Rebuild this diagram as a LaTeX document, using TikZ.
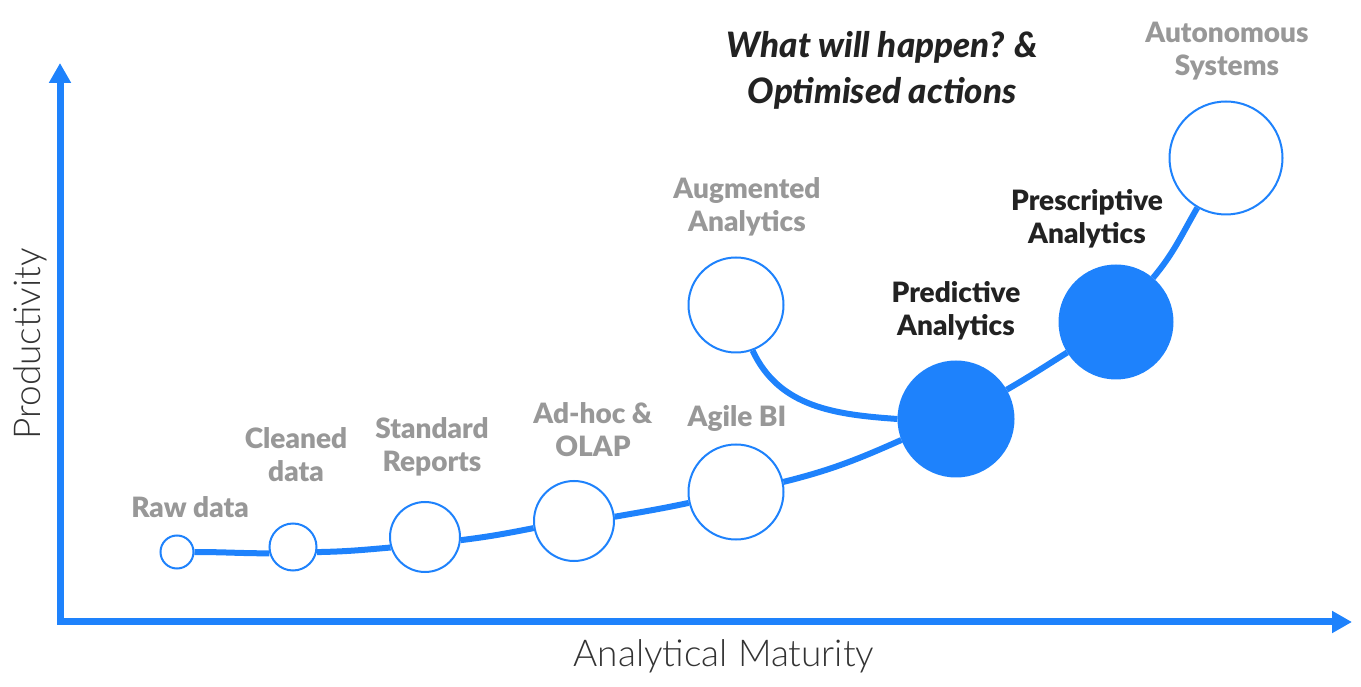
\documentclass[tikz,border=0pt]{standalone}
\usepackage{fontspec}
\setmainfont{Lato}
\newfontfamily\lightfont{Lato Light}
\newfontfamily\heavyfont{Lato Black}
\usetikzlibrary{arrows.meta,backgrounds}
\definecolor{maturity}{RGB}{30,130,252}
\definecolor{stagegray}{RGB}{152,152,152}
\definecolor{ink}{RGB}{34,34,34}
\definecolor{axisink}{RGB}{51,51,51}

\begin{document}
\begin{tikzpicture}[x=1pt,y=1pt,
    stage/.style={circle,draw=maturity,line width=2pt,fill=white,inner sep=0pt},
    done/.style={stage,fill=maturity},
    stagetext/.style={align=center,text=stagegray,font=\heavyfont\fontsize{28}{33}\selectfont},
    hottext/.style={stagetext,text=ink},
    axistext/.style={text=axisink,font=\lightfont\fontsize{37}{42}\selectfont},
    axis/.style={draw=maturity,line width=7pt,miter limit=4},
    growth/.style={draw=maturity,line width=6pt}]
  \useasboundingbox (0,0) rectangle (1361,686);

  % axes
  \coordinate (origin) at (60,64);
  \coordinate (ytop) at (60,623);
  \coordinate (xend) at (1352,64);
  \draw[axis,{Triangle[length=20pt,width=21pt]}-{Triangle[length=20pt,width=21pt]}]
    (ytop) -- (origin) -- (xend);
  \node[axistext,rotate=90] (prod) at (30,342) {Productivity};
  \node[axistext] (mat) at (724,30) {Analytical Maturity};

  % stages
  \node[stage,minimum size=33pt] (raw) at (177,134) {};
  \node[stage,minimum size=47pt] (cleaned) at (293,139) {};
  \node[stage,minimum size=70pt] (standard) at (425,149) {};
  \node[stage,minimum size=80pt] (adhoc) at (574,165) {};
  \node[stage,minimum size=95pt] (agile) at (736,194) {};
  \node[stage,minimum size=95pt] (augmented) at (736,381) {};
  \node[done,minimum size=115pt] (predictive) at (956,267) {};
  \node[done,minimum size=113pt] (prescriptive) at (1116,364) {};
  \node[stage,minimum size=113pt] (autonomous) at (1226,528) {};

  \node[stagetext] at (190,179) {Raw data};
  \node[stagetext] at (296,231) {Cleaned\\data};
  \node[stagetext] at (432,239) {Standard\\Reports};
  \node[stagetext] at (593,256) {Ad-hoc \&\\OLAP};
  \node[stagetext] at (737,268) {Agile BI};
  \node[stagetext] at (747,479) {Augmented\\Analytics};
  \node[hottext] at (956,375) {Predictive\\Analytics};
  \node[hottext] at (1087,467) {Prescriptive\\Analytics};
  \node[stagetext] at (1227,635) {Autonomous\\Systems};
  \node[hottext,font=\heavyfont\fontsize{35}{46}\selectfont\itshape] at (882,616)
    {What will happen? \&\\Optimised actions};

  % growth curve
  \begin{scope}[on background layer]
    \draw[growth] (raw.east) to[out=0,in=180] (cleaned.195);
    \draw[growth] (cleaned.-12) to[out=1,in=185] (standard.197);
    \draw[growth] (standard.-5) to[out=7,in=191] (adhoc.190);
    \draw[growth] (adhoc.6) to[out=10,in=192] (agile.193);
    \draw[growth] (agile.12) to[out=14,in=204] (predictive.201);
    \draw[growth] (augmented.-70) to[out=-65,in=176] (predictive.180);
    \draw[growth] (predictive) to[out=30,in=212] (prescriptive);
    \draw[growth] (prescriptive) to[out=50,in=240] (autonomous);
  \end{scope}
\end{tikzpicture}
\end{document}
